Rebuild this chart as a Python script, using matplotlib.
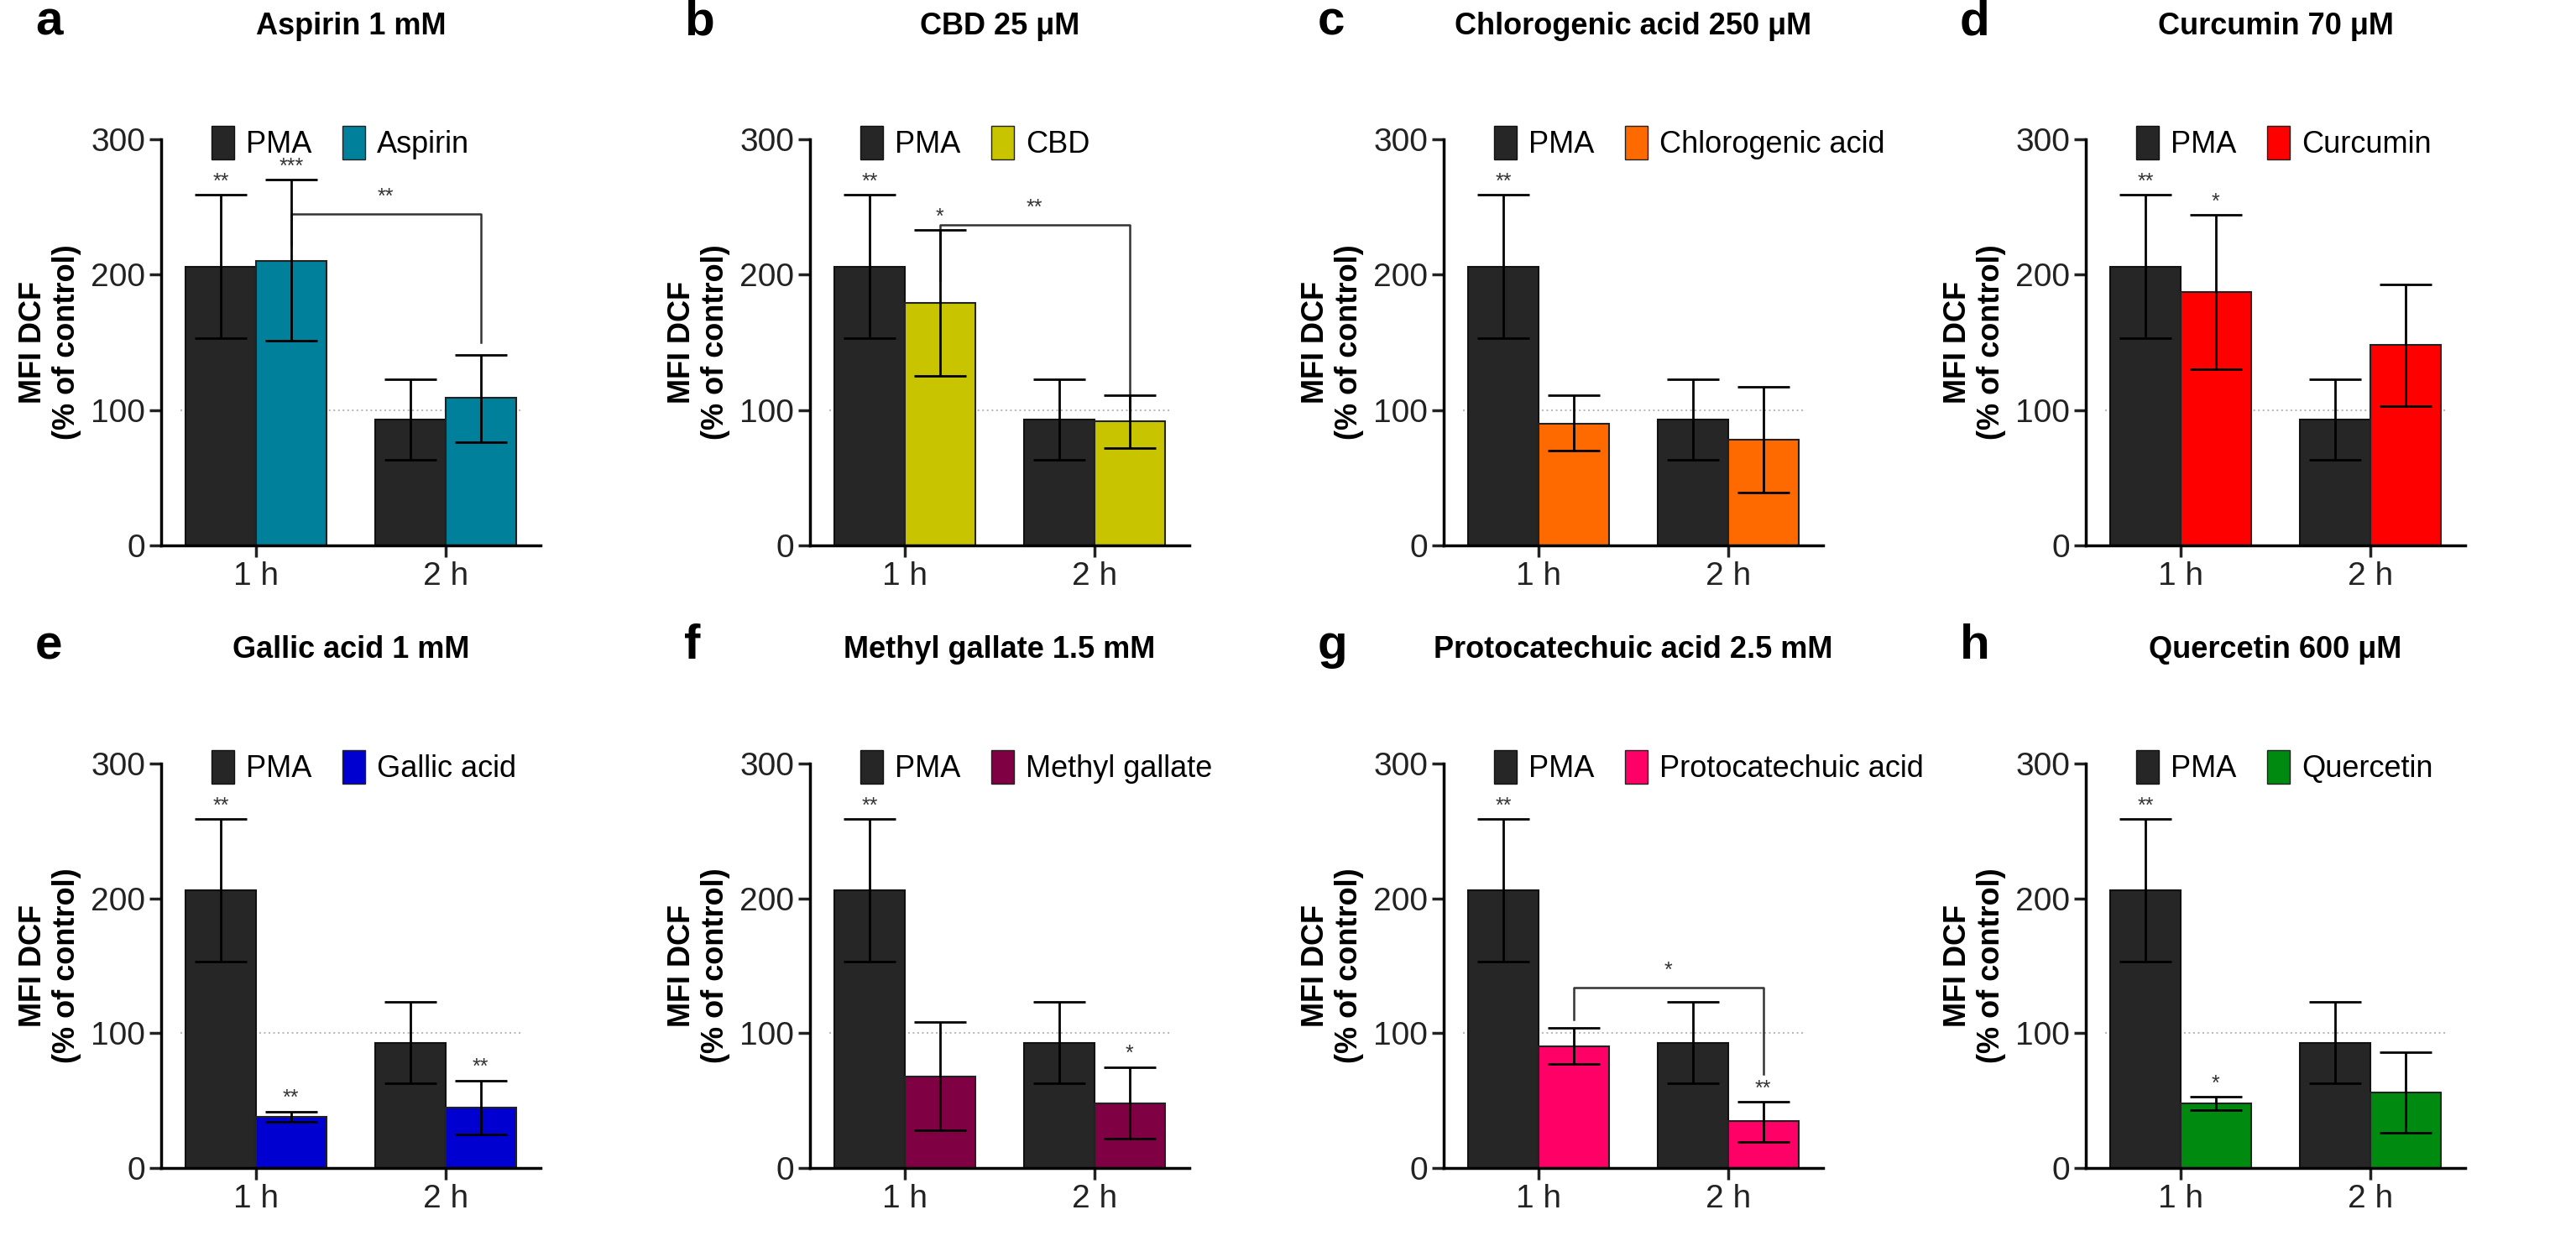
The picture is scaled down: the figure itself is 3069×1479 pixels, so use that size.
import numpy as np
import matplotlib.pyplot as plt
from matplotlib.patches import Patch

plt.rcParams['font.family'] = ['Liberation Sans', 'DejaVu Sans']

# ---------------- data ----------------
times = ['1 h', '2 h']
pma_mean = [206, 93]
pma_lo = [153, 63]
pma_hi = [259, 123]

letters = ['a', 'b', 'c', 'd', 'e', 'f', 'g', 'h']
titles = ['Aspirin 1 mM', 'CBD 25 \u03bcM', 'Chlorogenic acid 250 \u03bcM', 'Curcumin 70 \u03bcM',
          'Gallic acid 1 mM', 'Methyl gallate 1.5 mM', 'Protocatechuic acid 2.5 mM', 'Quercetin 600 \u03bcM']
drugs = ['Aspirin', 'CBD', 'Chlorogenic acid', 'Curcumin',
         'Gallic acid', 'Methyl gallate', 'Protocatechuic acid', 'Quercetin']
colors = ['#00809a', '#c8c400', '#ff6a00', '#ff0000', '#0000d0', '#7f0043', '#ff0066', '#008a10']
drug_mean = [[210, 109], [179, 92], [90, 78], [187, 148], [38, 45], [68, 48], [90, 35], [48, 56]]
drug_lo = [[151, 76], [125, 72], [70, 39], [130, 103], [34, 25], [28, 22], [77, 19], [43, 26]]
drug_hi = [[270, 141], [233, 111], [111, 117], [244, 193], [42, 65], [108, 75], [104, 49], [53, 86]]
# stars: (pma 1h, pma 2h, drug 1h, drug 2h)
stars = [['**', '', '***', ''], ['**', '', '*', ''], ['**', '', '', ''], ['**', '', '*', ''],
         ['**', '', '**', '**'], ['**', '', '', '*'], ['**', '', '', '**'], ['**', '', '*', '']]
# bracket between drug 1h and drug 2h: (left start, right start, top, label)
brackets = {0: (222, 150, 245, '**'), 1: (196, 102, 237, '**'), 6: (110, 70, 134, '*')}

fig = plt.figure(figsize=(30.69, 14.79), dpi=100)
W, H = 3069, 1479
lefts = [192, 965, 1720, 2485]
w = 452
rows = [(650, 166), (1392, 910)]
bw = 0.37

for i in range(8):
    r, c = divmod(i, 4)
    y0, y1 = rows[r]
    ax = fig.add_axes([lefts[c] / W, 1 - y0 / H, w / W, (y0 - y1) / H])
    x = np.array([1, 2])
    xp = x - bw / 2
    xd = x + bw / 2
    pe = [np.array(pma_mean) - np.array(pma_lo), np.array(pma_hi) - np.array(pma_mean)]
    de = [np.array(drug_mean[i]) - np.array(drug_lo[i]), np.array(drug_hi[i]) - np.array(drug_mean[i])]
    ax.bar(xp, pma_mean, bw, color='#262626', edgecolor='#111111', lw=1.5, zorder=2)
    ax.bar(xd, drug_mean[i], bw, color=colors[i], edgecolor='#222222', lw=1.5, zorder=2)
    ax.errorbar(xp, pma_mean, yerr=pe, fmt='none', ecolor='black', elinewidth=2, capsize=22, capthick=2, zorder=3)
    ax.errorbar(xd, drug_mean[i], yerr=de, fmt='none', ecolor='black', elinewidth=2, capsize=22, capthick=2, zorder=3)
    ax.plot([0.6, 2.4], [100, 100], ls=':', color='#bbbbbb', lw=1.5, zorder=1)

    tops = [pma_hi[0], pma_hi[1], drug_hi[i][0], drug_hi[i][1]]
    xs = [xp[0], xp[1], xd[0], xd[1]]
    for s, xx, tt in zip(stars[i], xs, tops):
        if s:
            ax.text(xx, tt + 2, s, ha='center', va='bottom', fontsize=18, color='#333333')

    if i in brackets:
        a, b, top, lab = brackets[i]
        ax.plot([xd[0], xd[0], xd[1], xd[1]], [a, top, top, b], color='#333333', lw=1.8)
        ax.text((xd[0] + xd[1]) / 2, top + 5, lab, ha='center', va='bottom', fontsize=18, color='#333333')

    ax.set_xlim(0.5, 2.5)
    ax.set_ylim(0, 300)
    ax.set_yticks([0, 100, 200, 300])
    ax.set_xticks(x)
    ax.set_xticklabels(times)
    for sp in ['top', 'right']:
        ax.spines[sp].set_visible(False)
    for sp in ['left', 'bottom']:
        ax.spines[sp].set_linewidth(2.5)
    ax.tick_params(labelsize=28, width=2.5, length=10, colors='#222222')
    ax.set_ylabel('MFI DCF\n(% of control)', fontsize=26, fontweight='bold', labelpad=8)

    handles = [Patch(facecolor='#262626', edgecolor='#111111'),
               Patch(facecolor=colors[i], edgecolor='#222222')]
    ax.legend(handles, ['PMA', drugs[i]], ncol=2, loc='lower left', bbox_to_anchor=(0.1, 0.92),
              frameon=False, fontsize=26, handlelength=0.75, handleheight=1.3,
              handletextpad=0.4, columnspacing=1.0, borderaxespad=0)

    ax.text(0.5, 1 + 135 / (y0 - y1), titles[i], transform=ax.transAxes, ha='center',
            va='center', fontsize=26, fontweight='bold')
    fig.text((lefts[c] - 150) / W, 1 - (y1 - 140) / H, letters[i], fontsize=42,
             fontweight='bold', ha='left', va='center')

fig.savefig('out.png', dpi=100)
